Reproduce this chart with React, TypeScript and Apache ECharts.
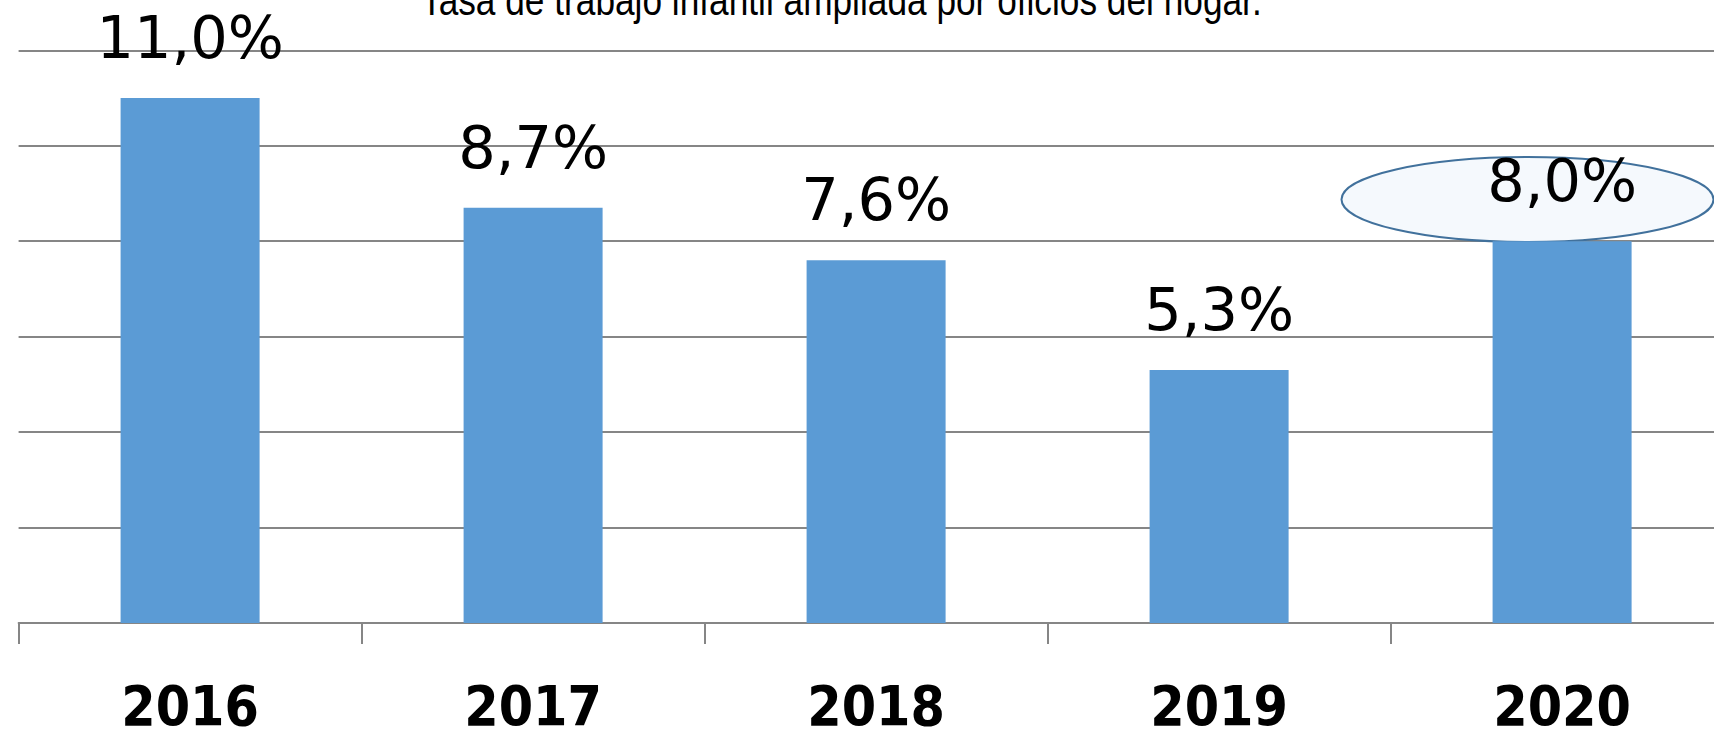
import React, { useEffect, useRef } from "react";
import * as echarts from "echarts";

const years = ["2016", "2017", "2018", "2019", "2020"];
const rates = [11.0, 8.7, 7.6, 5.3, 8.0];
const rateLabels = ["11,0%", "8,7%", "7,6%", "5,3%", "8,0%"];
const title = "Tasa de trabajo infantil ampliada por oficios del hogar.";

export default function App() {
  const ref = useRef<HTMLDivElement>(null);
  useEffect(() => {
    if (!ref.current) return;
    const chart = echarts.init(ref.current, undefined, { renderer: "svg" });
    chart.setOption({
      animation: false,
      backgroundColor: "#ffffff",
      grid: { left: 18.6, top: 50.3, width: 1715, height: 578, containLabel: false },
      xAxis: {
        type: "category",
        data: years,
        axisLine: { show: true, lineStyle: { color: "#868686", width: 2 } },
        axisTick: { show: true, length: 21, lineStyle: { color: "#868686", width: 2 } },
        axisLabel: {
          margin: 55,
          fontFamily: "DejaVu Sans Condensed, DejaVu Sans",
          fontWeight: "bold",
          fontSize: 55,
          color: "#000",
        },
      },
      yAxis: {
        type: "value",
        min: 0,
        max: 12,
        interval: 2,
        axisLine: { show: false },
        axisTick: { show: false },
        axisLabel: { show: false },
        splitLine: { show: true, lineStyle: { color: "#868686", width: 2 } },
      },
      graphic: [
        {
          type: "text",
          x: 421,
          y: -22,
          scaleX: 0.82,
          z: 10,
          style: {
            text: title,
            font: '43px "Liberation Sans"',
            fill: "#000",
            verticalAlign: "top",
            align: "left",
          },
        },
        {
          type: "ellipse",
          z: 1,
          shape: { cx: 1527.5, cy: 199.5, rx: 186, ry: 42.5 },
          style: { fill: "#F5F9FD", stroke: "#41719C", lineWidth: 2 },
        },
      ],
      series: [
        {
          type: "bar",
          data: rates,
          barWidth: 139,
          z: 3,
          itemStyle: { color: "#5B9BD5" },
          label: {
            show: true,
            position: "top",
            distance: 31,
            fontFamily: "DejaVu Sans",
            fontSize: 59,
            color: "#000",
            formatter: (p: any) => rateLabels[p.dataIndex],
          },
        },
      ],
    });
    return () => chart.dispose();
  }, []);
  return (
    <div
      style={{
        position: "fixed",
        left: 0,
        top: 0,
        width: 1714,
        height: 733,
        overflow: "hidden",
        background: "#fff",
      }}
    >
      <div ref={ref} style={{ width: 1760, height: 733 }} />
    </div>
  );
}
